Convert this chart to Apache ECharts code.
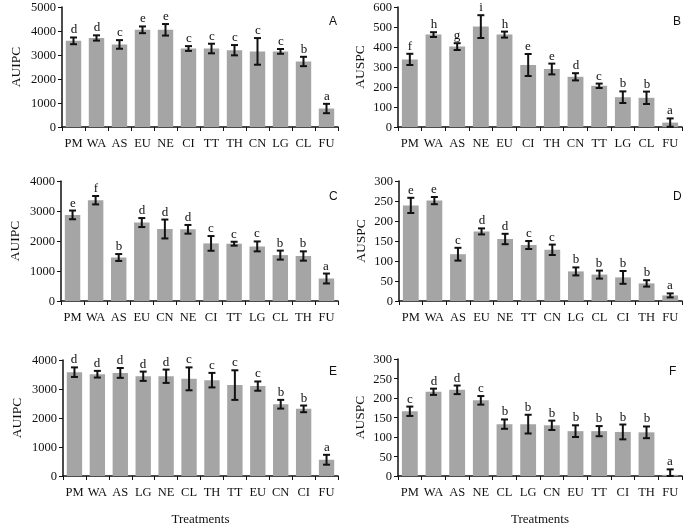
<!DOCTYPE html>
<html><head><meta charset="utf-8">
<script src="https://cdn.jsdelivr.net/npm/echarts@6/dist/echarts.min.js"></script>
<style>html,body{margin:0;padding:0;background:#fff}#c{width:689px;height:526px;will-change:transform}</style>
</head><body><div id="c"></div>
<script>
// Panel A (AUIPC)
const catsA = ['PM','WA','AS','EU','NE','CI','TT','TH','CN','LG','CL','FU'];
const valsA = [3590,3710,3440,4050,4050,3270,3270,3200,3150,3150,2730,770];
const errsA = [140,110,180,140,240,100,200,215,555,100,195,195];
const letsA = ['d','d','c','e','e','c','c','c','c','c','b','a'];
// Panel B (AUSPC)
const catsB = ['PM','WA','AS','NE','EU','CI','TH','CN','TT','LG','CL','FU'];
const valsB = [338,462,402,502,462,310,290,251,206,149,146,22];
const errsB = [28,12,17,57,15,55,27,18,11,29,31,21];
const letsB = ['f','h','g','i','h','e','e','d','c','b','b','a'];
// Panel C (AUIPC)
const catsC = ['PM','WA','AS','EU','CN','NE','CI','TT','LG','CL','TH','FU'];
const valsC = [2870,3360,1450,2615,2400,2390,1920,1910,1820,1530,1500,750];
const errsC = [145,140,115,150,315,145,245,65,165,150,155,165];
const letsC = ['e','f','b','d','d','d','c','c','c','b','b','a'];
// Panel D (AUSPC)
const catsD = ['PM','WA','AS','EU','NE','TT','CN','LG','CL','CI','TH','FU'];
const valsD = [239,251,117,174,155,140,128,74,66,59,44,14];
const errsD = [19,9,16,7.5,13,10,13,10,10,16,8,5];
const letsD = ['e','e','c','d','d','c','c','b','b','b','b','a'];
// Panel E (AUIPC)
const catsE = ['PM','WA','AS','LG','NE','CL','TH','TT','EU','CN','CI','FU'];
const valsE = [3580,3510,3555,3440,3440,3350,3305,3135,3100,2475,2315,560];
const errsE = [165,115,170,160,230,395,250,510,160,150,115,170];
const letsE = ['d','d','d','d','d','c','c','c','c','b','b','a'];
// Panel F (AUSPC)
const catsF = ['PM','WA','AS','NE','CL','LG','CN','EU','TT','CI','TH','FU'];
const valsF = [166,216,221,194,133,133,130,115,115,113,112,3];
const errsF = [12,8,11,11,12,24,12,15,13,19,15,14];
const letsF = ['c','d','d','c','b','b','b','b','b','b','b','a'];

const yTitles = ['AUIPC','AUSPC','AUIPC','AUSPC','AUIPC','AUSPC'];
const panelTags = ['A','B','C','D','E','F'];
const yMax = [5000,600,4000,300,4000,300];
const yStep = [1000,100,1000,50,1000,50];

const panels = [
  [catsA,valsA,errsA,letsA],[catsB,valsB,errsB,letsB],
  [catsC,valsC,errsC,letsC],[catsD,valsD,errsD,letsD],
  [catsE,valsE,errsE,letsE],[catsF,valsF,errsF,letsF]
];
const grids = [
  {left:62,top:7,width:276,height:120},
  {left:398,top:7,width:284,height:120},
  {left:61,top:181,width:277,height:120},
  {left:399,top:181,width:283,height:120},
  {left:63,top:360,width:275,height:117},
  {left:398,top:359,width:284,height:118}
];
const tagPos = [[333,22],[677,22],[333,197],[677,197],[333,372],[673,372]];

const serif = '"Liberation Serif","Times New Roman",serif';
const xAxis = [], yAxis = [], series = [], graphic = [];
panels.forEach((p,gi)=>{
  const [cats,vals,errs,lets] = p;
  xAxis.push({
    type:'category', gridIndex:gi, data:cats,
    axisLine:{lineStyle:{color:'#111',width:1.5}},
    axisTick:{show:true,length:4,lineStyle:{color:'#111',width:1}},
    axisLabel:{color:'#111',fontFamily:serif,fontSize:12.5,margin:9,interval:0},
    name: gi>=4 ? 'Treatments' : '', nameLocation:'middle', nameGap:36,
    nameTextStyle:{color:'#111',fontFamily:serif,fontSize:13}
  });
  yAxis.push({
    type:'value', gridIndex:gi, min:0, max:yMax[gi], interval:yStep[gi],
    splitLine:{show:false},
    axisLine:{show:true,lineStyle:{color:'#111',width:1.5}},
    axisTick:{show:true,length:4,lineStyle:{color:'#111',width:1}},
    axisLabel:{color:'#111',fontFamily:serif,fontSize:12.5,margin:6,
      formatter:function(v){return String(v);}},
    name:yTitles[gi], nameLocation:'middle', nameGap: gi%2===0 ? 40 : 32,
    nameTextStyle:{color:'#111',fontFamily:serif,fontSize:13.5}
  });
  series.push({
    type:'bar', xAxisIndex:gi, yAxisIndex:gi, data:vals,
    barCategoryGap:'33%', itemStyle:{color:'#a5a5a5'}, silent:true
  });
  series.push({
    type:'custom', xAxisIndex:gi, yAxisIndex:gi, z:5, silent:true,
    itemStyle:{color:'#111'},
    data: vals.map((v,i)=>[i,v,errs[i]]),
    renderItem:function(params, api){
      const x = api.value(0), v = api.value(1), e = api.value(2);
      const hi = api.coord([x, v+e]);
      const lo = api.coord([x, Math.max(v-e,0)]);
      const c = 3.5;
      const st = {stroke:'#111', lineWidth:2};
      return {type:'group', children:[
        {type:'line', shape:{x1:hi[0],y1:hi[1],x2:lo[0],y2:lo[1]}, style:st},
        {type:'line', shape:{x1:hi[0]-c,y1:hi[1],x2:hi[0]+c,y2:hi[1]}, style:st},
        {type:'line', shape:{x1:lo[0]-c,y1:lo[1],x2:lo[0]+c,y2:lo[1]}, style:st},
        {type:'text', x:Math.round(hi[0]), y:Math.round(hi[1]-2),
          style:{text:lets[params.dataIndex], x:0, y:0,
          align:'center', verticalAlign:'bottom', fill:'#111', stroke:null, lineWidth:0,
          fontFamily:serif, fontSize:13}}
      ]};
    }
  });
  graphic.push({type:'text', left:tagPos[gi][0]-4, top:tagPos[gi][1]-7,
    style:{text:panelTags[gi], fill:'#111', font:'12px "Liberation Sans",Arial,sans-serif'}});
});

const chart = echarts.init(document.getElementById('c'), null, {renderer:'svg'});
chart.setOption({
  animation:false, backgroundColor:'#fff',
  grid: grids, xAxis, yAxis, series, graphic
});
</script>
</body></html>
